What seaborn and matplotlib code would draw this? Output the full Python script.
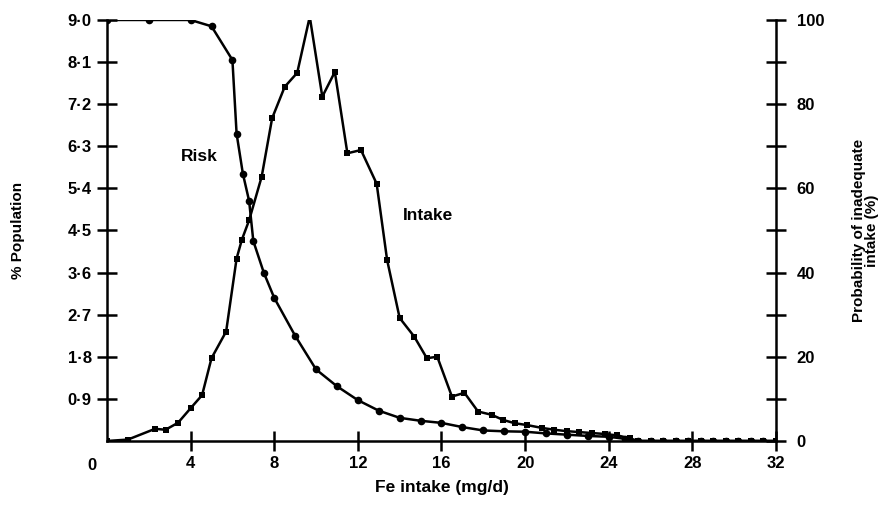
import matplotlib
matplotlib.use('Agg')
import matplotlib.pyplot as plt
from matplotlib.ticker import MultipleLocator
import numpy as np
import pandas as pd
import seaborn as sns

sns.set_style("ticks")
plt.rcParams['font.family'] = ['Liberation Sans', 'DejaVu Sans']
plt.rcParams.update({
    'font.weight': 'bold',
    'axes.labelweight': 'bold',
    'text.color': 'black',
    'axes.labelcolor': 'black',
    'axes.edgecolor': 'black',
    'xtick.color': 'black',
    'ytick.color': 'black',
})

# Intake distribution (% population) vs Fe intake (mg/d)
intake_x = [0.0, 1.0, 2.3, 2.8, 3.4, 4.0, 4.55, 5.0, 5.7, 6.2, 6.45, 6.8, 7.4, 7.9,
            8.5, 9.1, 9.7, 10.3, 10.9, 11.5, 12.15, 12.9, 13.4, 14.0, 14.7, 15.3,
            15.8, 16.5, 17.1, 17.75, 18.4, 18.95, 19.5, 20.1, 20.8, 21.4, 22.0,
            22.6, 23.2, 23.8, 24.4, 25.0, 25.4, 26.0, 26.6, 27.2, 27.8, 28.4,
            29.0, 29.6, 30.2, 30.8, 31.4, 32.0]
intake_y = [0.0, 0.03, 0.26, 0.24, 0.39, 0.70, 0.98, 1.77, 2.34, 3.90, 4.30, 4.72,
            5.65, 6.90, 7.57, 7.87, 9.07, 7.36, 7.89, 6.15, 6.22, 5.50, 3.87, 2.63,
            2.23, 1.77, 1.80, 0.95, 1.03, 0.63, 0.56, 0.45, 0.38, 0.34, 0.28, 0.24,
            0.21, 0.19, 0.17, 0.15, 0.12, 0.06, 0.0, 0.0, 0.0, 0.0, 0.0, 0.0,
            0.0, 0.0, 0.0, 0.0, 0.0, 0.0]

# Probability of inadequate intake (%)
risk_x = [0.0, 2.0, 4.0, 5.0, 6.0, 6.2, 6.5, 6.8, 7.0, 7.5, 8.0, 9.0, 10.0, 11.0,
          12.0, 13.0, 14.0, 15.0, 16.0, 17.0, 18.0, 19.0, 20.0, 21.0, 22.0, 23.0,
          24.0, 24.8, 25.4, 26.0, 26.6, 27.2, 27.8, 28.4, 29.0, 29.6, 30.2, 30.8,
          31.4, 32.0]
risk_y = [100, 100, 100, 98.5, 90.5, 73, 63.5, 57, 47.5, 40, 34, 25, 17, 13,
          9.7, 7.2, 5.5, 4.8, 4.3, 3.3, 2.5, 2.3, 2.2, 1.8, 1.5, 1.2,
          1.0, 0.5, 0, 0, 0, 0, 0, 0, 0, 0, 0, 0, 0, 0]

left_ticks = [0.9, 1.8, 2.7, 3.6, 4.5, 5.4, 6.3, 7.2, 8.1, 9.0]
x_ticks = [4, 8, 12, 16, 20, 24, 28, 32]
right_ticks = [0, 20, 40, 60, 80, 100]

fig = plt.figure(figsize=(8.96, 5.12), dpi=100)
ax = fig.add_axes([0.1194, 0.1387, 0.7466, 0.8223])
ax2 = ax.twinx()

df_int = pd.DataFrame({'x': intake_x, 'y': intake_y})
df_risk = pd.DataFrame({'x': risk_x, 'y': risk_y})

sns.lineplot(data=df_int, x='x', y='y', ax=ax, color='black', lw=1.8,
             marker='s', markersize=5, markeredgewidth=0, sort=False)
sns.lineplot(data=df_risk, x='x', y='y', ax=ax2, color='black', lw=1.8,
             marker='o', markersize=5.5, markeredgewidth=0, sort=False)

ax.set_xlim(0, 32)
ax.set_ylim(0, 9.0)
ax2.set_ylim(0, 100)

ax.set_xticks(x_ticks)
ax.set_xticklabels([str(t) for t in x_ticks])
ax.set_yticks(left_ticks)
ax.set_yticklabels([f"{t:.1f}".replace('.', '\u00b7') for t in left_ticks])
ax2.set_yticks(right_ticks)
ax2.yaxis.set_minor_locator(MultipleLocator(10))

for a in (ax, ax2):
    a.spines['top'].set_visible(False)
    for s in a.spines.values():
        s.set_linewidth(1.8)
        s.set_color('black')
ax.spines['right'].set_visible(False)
ax2.spines['left'].set_visible(False)
ax2.spines['bottom'].set_visible(False)

ax.tick_params(axis='both', direction='inout', length=14, width=1.8,
               labelsize=12, colors='black', pad=4)
ax2.tick_params(axis='y', which='both', direction='inout', length=14, width=1.8,
                labelsize=12, colors='black', pad=8)

ax.text(-0.022, -0.04, '0', transform=ax.transAxes, fontsize=12,
        ha='center', va='top')

ax.set_xlabel('Fe intake (mg/d)', fontsize=12.5, labelpad=6)
ax.set_ylabel('% Population', fontsize=11, labelpad=31)
ax2.set_ylabel('Probability of inadequate\nintake (%)', fontsize=11,
               labelpad=20, linespacing=0.95)

ax.text(4.4, 6.09, 'Risk', fontsize=12.5, ha='center', va='center')
ax.text(15.36, 4.83, 'Intake', fontsize=12.5, ha='center', va='center')

fig.savefig('out.png', dpi=100, facecolor='white')
